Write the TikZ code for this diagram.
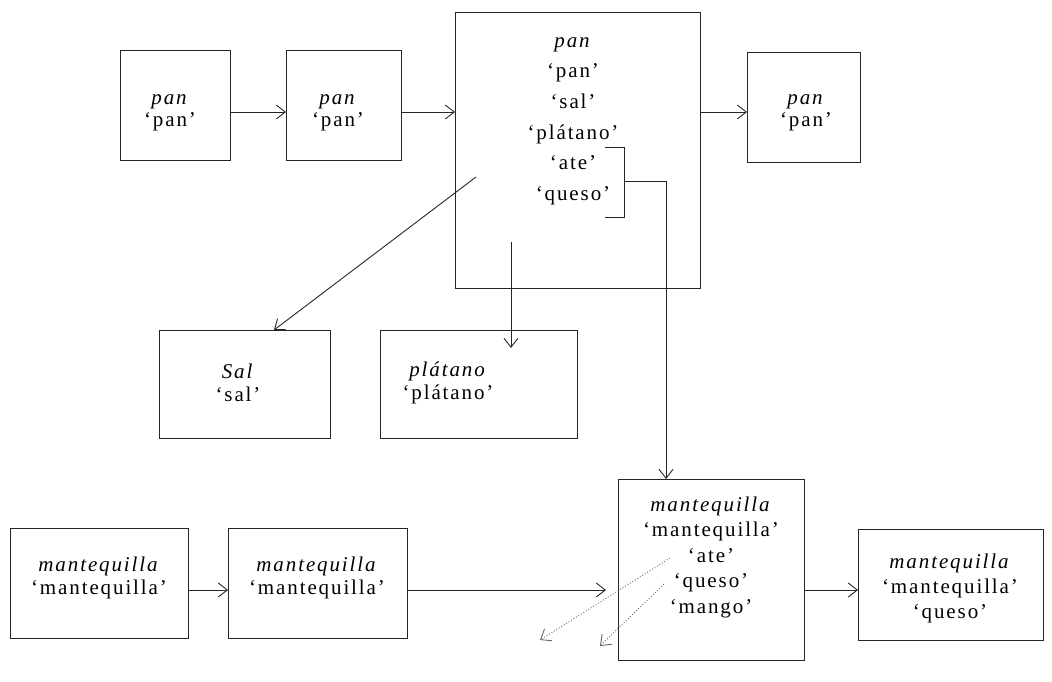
\documentclass[tikz,border=0pt]{standalone}
\usepackage{fontspec}
\setmainfont{Liberation Serif}[LetterSpace=9]
\usetikzlibrary{arrows.meta}
\begin{document}
\begin{tikzpicture}[x=1pt,y=-1pt,
  box/.style={draw=black!85, line width=1pt, inner sep=0pt, anchor=north west},
  lab/.style={align=center, font=\fontsize{21}{22.5}\selectfont, inner sep=0pt},
  arr/.style={draw=black!85, line width=0.9pt, -{Straight Barb[length=9pt,width=14pt]}},
  dotarr/.style={arr, dotted, draw=black!60}]
\useasboundingbox (0,0) rectangle (1052,681);
% top row
\node[box, minimum width=110, minimum height=110] (b1) at (120,50) {};
\node[box, minimum width=115, minimum height=110] (b2) at (286,50) {};
\node[box, minimum width=245, minimum height=276] (b3) at (455,12) {};
\node[box, minimum width=113, minimum height=110] (b4) at (747,52) {};
\node[lab] (t1) at (170,113) {\textit{pan}\\‘pan’};
\node[lab] (t2) at (338,113) {\textit{pan}\\‘pan’};
\node[lab, font=\fontsize{21}{30.6}\selectfont] (t3) at (573,121) {\textit{pan}\\‘pan’\\‘sal’\\‘plátano’\\‘ate’\\‘queso’};
\node[lab] (t4) at (806,113) {\textit{pan}\\‘pan’};
% middle row
\node[box, minimum width=171, minimum height=108] (sal) at (159,330) {};
\node[box, minimum width=197, minimum height=108] (pla) at (380,330) {};
\node[lab] (tsal) at (238,383) {\textit{Sal}\\‘sal’};
\node[lab] (tpla) at (448,383) {\textit{plátano}\\‘plátano’};
% bottom row
\node[box, minimum width=178, minimum height=110] (m1) at (10,528) {};
\node[box, minimum width=179, minimum height=110] (m2) at (228,528) {};
\node[box, minimum width=186, minimum height=181] (m3) at (618,479) {};
\node[box, minimum width=185, minimum height=111] (m4) at (858,529) {};
\node[lab] (tm1) at (99,578) {\textit{mantequilla}\\‘mantequilla’};
\node[lab] (tm2) at (317,578) {\textit{mantequilla}\\‘mantequilla’};
\node[lab, font=\fontsize{21}{25.5}\selectfont] (tm3) at (711,557) {\textit{mantequilla}\\‘mantequilla’\\‘ate’\\‘queso’\\‘mango’};
\node[lab, font=\fontsize{21}{25}\selectfont] (tm4) at (950,588) {\textit{mantequilla}\\‘mantequilla’\\‘queso’};
% top arrows
\coordinate (a1) at (230,112);
\draw[arr] (a1) -- (a1 -| b2.west);
\coordinate (a2) at (401,112);
\draw[arr] (a2) -- (a2 -| b3.west);
\coordinate (a3) at (700,112);
\draw[arr] (a3) -- (a3 -| b4.west);
% from big box
\coordinate (dA) at (476,177);
\coordinate (dB) at (274,330);
\draw[arr] (dA) -- (dB);
\coordinate (vA) at (511,242);
\coordinate (vB) at (511,348);
\draw[arr] (vA) -- (vB);
% bracket
\coordinate (k1) at (605,147);
\coordinate (k2) at (624,147);
\coordinate (k3) at (624,217);
\coordinate (k4) at (605,217);
\coordinate (kc) at (624,181);
\coordinate (kr) at (666,181);
\draw[draw=black!85, line width=0.9pt] (k1) -- (k2) -- (k3) -- (k4);
\draw[arr] (kc) -- (kr) -- (kr |- m3.north);
% bottom arrows
\coordinate (e1) at (188,590);
\draw[arr] (e1) -- (e1 -| m2.west);
\coordinate (e2) at (407,590);
\draw[arr, shorten >=12pt] (e2) -- (e2 -| m3.west);
\coordinate (e3) at (804,590);
\draw[arr] (e3) -- (e3 -| m4.west);
% dotted arrows
\coordinate (p1) at (670,558);
\coordinate (q1) at (540,640);
\coordinate (p2) at (664,584);
\coordinate (q2) at (600,646);
\draw[dotarr] (p1) -- (q1);
\draw[dotarr] (p2) -- (q2);
\end{tikzpicture}
\end{document}
